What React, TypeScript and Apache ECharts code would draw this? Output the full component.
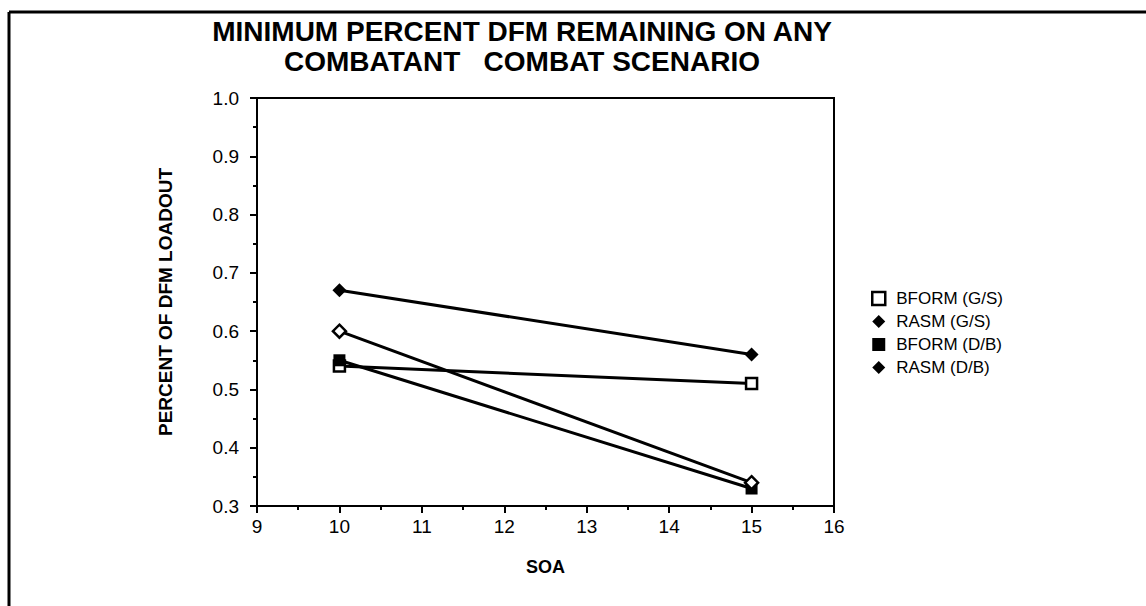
import React, { useEffect, useRef } from "react";
import * as echarts from "echarts";

const titleLines = ["MINIMUM PERCENT DFM REMAINING ON ANY", "COMBATANT   COMBAT SCENARIO"];
const xName = "SOA";
const yName = "PERCENT OF DFM LOADOUT";
const soa = [10, 15];
const seriesNames = ["BFORM (G/S)", "RASM (G/S)", "BFORM (D/B)", "RASM (D/B)"];
const bformGS = [0.54, 0.51];
const rasmGS = [0.67, 0.56];
const bformDB = [0.55, 0.33];
const rasmDB = [0.6, 0.34];

const FONT = "'Liberation Sans', Arial, Helvetica, sans-serif";

export default function App() {
  const ref = useRef<HTMLDivElement>(null);
  useEffect(() => {
    if (!ref.current) return;
    const chart = echarts.init(ref.current, null, { renderer: "svg" });
    const pair = (vals: number[]) => soa.map((x, i) => [x, vals[i]]);
    const mk = (name: string, vals: number[], symbol: string, hollow: boolean, size: number) => ({
      name,
      type: "line",
      data: pair(vals),
      symbol,
      symbolSize: size,
      showSymbol: true,
      lineStyle: { color: "#000", width: 3 },
      itemStyle: hollow
        ? { color: "#fff", borderColor: "#000", borderWidth: 2.5 }
        : { color: "#000", borderColor: "#000", borderWidth: 0 },
      z: 3,
    });
    chart.setOption({
      animation: false,
      backgroundColor: "#fff",
      textStyle: { fontFamily: FONT },
      title: {
        text: titleLines.join("\n"),
        left: 517,
        textAlign: "center",
        top: 11,
        textStyle: { fontFamily: FONT, fontWeight: "bold", fontSize: 28, lineHeight: 30, color: "#000" },
      },
      grid: {
        left: 257,
        right: 312,
        top: 98,
        bottom: 100,
        show: true,
        borderColor: "#000",
        borderWidth: 2,
        backgroundColor: "transparent",
      },
      legend: {
        orient: "vertical",
        left: 866,
        top: 285,
        itemGap: 6,
        itemWidth: 13,
        itemHeight: 13,
        textStyle: { fontFamily: FONT, fontSize: 17, color: "#000", padding: [0, 0, 0, 6] },
        data: [
          { name: seriesNames[0], icon: "rect", itemStyle: { color: "#fff", borderColor: "#000", borderWidth: 2.5 } },
          { name: seriesNames[1], icon: "diamond", itemStyle: { color: "#000", borderWidth: 0 } },
          { name: seriesNames[2], icon: "rect", itemStyle: { color: "#000", borderWidth: 0 } },
          { name: seriesNames[3], icon: "diamond", itemStyle: { color: "#000", borderWidth: 0 } },
        ],
      },
      xAxis: {
        type: "value",
        min: 9,
        max: 16,
        interval: 1,
        name: xName,
        nameLocation: "middle",
        nameGap: 52,
        nameTextStyle: { fontFamily: FONT, fontWeight: "bold", fontSize: 18, color: "#000" },
        axisLine: { show: true, lineStyle: { color: "#000", width: 2 } },
        axisTick: { show: true, inside: false, length: 7, lineStyle: { color: "#000", width: 2 } },
        minorTick: { show: true, splitNumber: 2, length: 4, lineStyle: { color: "#000", width: 2 } },
        splitLine: { show: false },
        axisLabel: { fontFamily: FONT, fontSize: 19, color: "#000", margin: 11 },
      },
      yAxis: {
        type: "value",
        min: 0.3,
        max: 1.0,
        interval: 0.1,
        name: yName,
        nameLocation: "middle",
        nameGap: 82,
        nameTextStyle: { fontFamily: FONT, fontWeight: "bold", fontSize: 19, color: "#000" },
        axisLine: { show: true, lineStyle: { color: "#000", width: 2 } },
        axisTick: { show: true, inside: false, length: 7, lineStyle: { color: "#000", width: 2 } },
        minorTick: { show: true, splitNumber: 2, length: 4, lineStyle: { color: "#000", width: 2 } },
        splitLine: { show: false },
        axisLabel: {
          fontFamily: FONT,
          fontSize: 19,
          color: "#000",
          margin: 18,
          formatter: (v: number) => v.toFixed(1),
        },
      },
      series: [
        mk(seriesNames[0], bformGS, "rect", true, 11),
        mk(seriesNames[1], rasmGS, "diamond", false, 14),
        mk(seriesNames[2], bformDB, "rect", false, 12),
        mk(seriesNames[3], rasmDB, "diamond", true, 13),
      ],
      graphic: [
        { type: "line", shape: { x1: 9, y1: 12, x2: 1146, y2: 12 }, style: { stroke: "#000", lineWidth: 3 } },
        { type: "line", shape: { x1: 9, y1: 12, x2: 9, y2: 606 }, style: { stroke: "#000", lineWidth: 3 } },
      ],
    });
    return () => chart.dispose();
  }, []);
  return (
    <div
      ref={ref}
      style={{ position: "fixed", left: 0, top: 0, width: 1146, height: 606, background: "#fff" }}
    />
  );
}
